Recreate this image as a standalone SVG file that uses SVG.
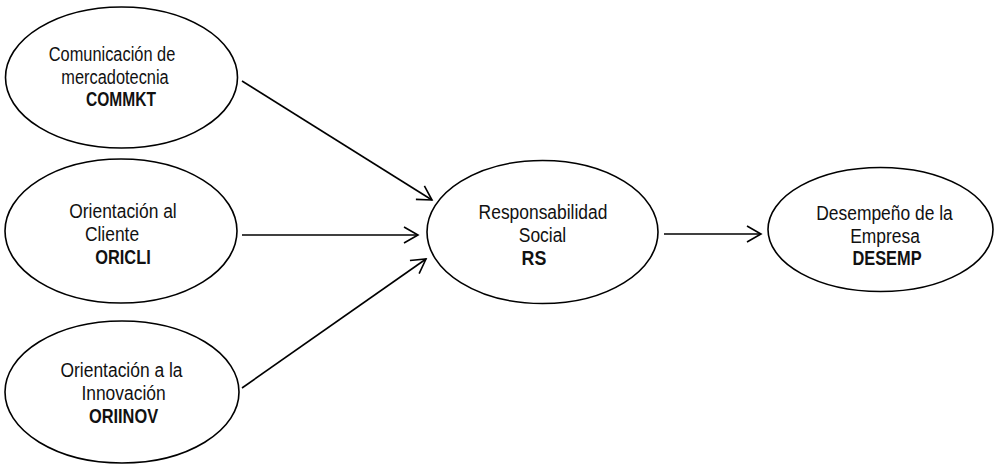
<svg xmlns="http://www.w3.org/2000/svg" width="994" height="464" viewBox="0 0 994 464">
<style>
.node ellipse{fill:#fff;stroke:#000;stroke-width:1.6}
text{font-family:"Liberation Sans",Arial,sans-serif;font-size:21px;fill:#111;text-anchor:middle}
.b{font-weight:bold}
.edge{stroke:#000;stroke-width:1.6;fill:none;marker-end:url(#arr)}
</style>
<defs>
<marker id="arr" markerUnits="userSpaceOnUse" viewBox="-16 -10 18 20" refX="0" refY="0" markerWidth="18" markerHeight="20" orient="auto">
<path d="M-14,-8 L0,0 L-14,8" fill="none" stroke="#000" stroke-width="1.6"/>
</marker>
</defs>
<rect width="994" height="464" fill="#fff"/>
<g id="connectors">
<line class="edge" x1="242" y1="81" x2="432" y2="200"/>
<line class="edge" x1="242" y1="235" x2="418" y2="235"/>
<line class="edge" x1="242" y1="388" x2="426" y2="259"/>
<line class="edge" x1="664" y1="234" x2="761" y2="234"/>
</g>
<g id="COMMKT" class="node">
<ellipse cx="121.5" cy="77.5" rx="116" ry="70.5"/>
<text transform="translate(112,61) scale(0.78,1)">Comunicación de</text>
<text transform="translate(115,84) scale(0.78,1)">mercadotecnia</text>
<text class="b" transform="translate(121,106) scale(0.74,1)">COMMKT</text>
</g>
<g id="ORICLI" class="node">
<ellipse cx="121" cy="231" rx="116" ry="72"/>
<text transform="translate(123,218) scale(0.83,1)">Orientación al</text>
<text transform="translate(112,241) scale(0.83,1)">Cliente</text>
<text class="b" transform="translate(123,264) scale(0.78,1)">ORICLI</text>
</g>
<g id="ORIINOV" class="node">
<ellipse cx="122" cy="392" rx="117" ry="71"/>
<text transform="translate(121.5,377) scale(0.83,1)">Orientación a la</text>
<text transform="translate(123.5,400) scale(0.83,1)">Innovación</text>
<text class="b" transform="translate(123.5,423) scale(0.78,1)">ORIINOV</text>
</g>
<g id="RS" class="node">
<ellipse cx="542.5" cy="232" rx="115.5" ry="71.5"/>
<text transform="translate(543,219) scale(0.83,1)">Responsabilidad</text>
<text transform="translate(542.5,242) scale(0.83,1)">Social</text>
<text class="b" transform="translate(534,265) scale(0.85,1)">RS</text>
</g>
<g id="DESEMP" class="node">
<ellipse cx="880.5" cy="229.5" rx="112.5" ry="62"/>
<text transform="translate(884.5,219.5) scale(0.83,1)">Desempeño de la</text>
<text transform="translate(885,242.5) scale(0.83,1)">Empresa</text>
<text class="b" transform="translate(887,265) scale(0.78,1)">DESEMP</text>
</g>
</svg>
